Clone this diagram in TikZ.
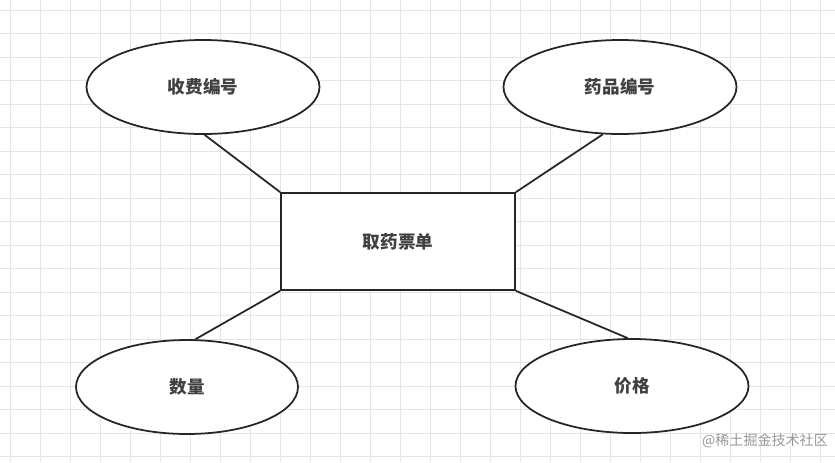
\documentclass[tikz,border=0pt]{standalone}
\usepackage{fontspec}
\newfontfamily\cjk{Noto Sans CJK SC}
\usetikzlibrary{shapes.geometric}
\begin{document}
\begin{tikzpicture}[x=0.03cm,y=-0.03cm,
  attr/.style={draw=black!85,line width=1.5pt,ellipse,fill=white,minimum width=233*0.03cm,minimum height=94*0.03cm,inner sep=0pt,font=\cjk\fontsize{15}{17}\selectfont\bfseries,text=black!75},
  ent/.style={draw=black!85,line width=1.5pt,rectangle,fill=white,minimum width=234*0.03cm,minimum height=97*0.03cm,inner sep=0pt,font=\cjk\fontsize{15}{17}\selectfont\bfseries,text=black!75},
  link/.style={draw=black!85,line width=1.5pt}]
\fill[white] (0,0) rectangle (835,462);
\useasboundingbox (0,0) rectangle (835,462);
\foreach \x in {10,40,...,835} \draw[black!10,line width=0.6pt] (\x,0) -- (\x,462);
\foreach \y in {10,33.5,...,462} \draw[black!10,line width=0.6pt] (0,\y) -- (835,\y);
\node[ent] (r) at (398,241.5) {取药票单};
\node[attr] (e1) at (203,87) {收费编号};
\node[attr] (e2) at (620,87) {药品编号};
\node[attr,minimum width=222*0.03cm] (e3) at (187,387) {数量};
\node[attr] (e4) at (632,386) {价格};
\draw[link] (r.north west) -- (e1.272);
\draw[link] (r.north east) -- (e2.250);
\draw[link] (r.south west) -- (e3.80);
\draw[link] (r.south east) -- (e4.95);
\node[font=\cjk\fontsize{12}{14}\selectfont,text=black!40,anchor=east] (wm) at (832,441) {@稀土掘金技术社区};
\end{tikzpicture}
\end{document}
